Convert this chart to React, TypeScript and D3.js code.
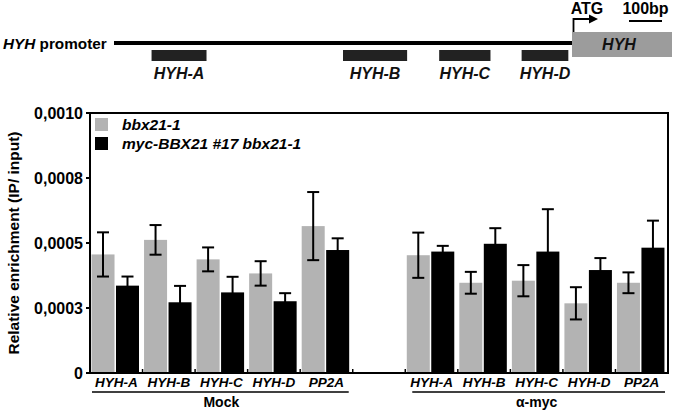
import React from "react";
import * as d3 from "d3";

// ---- data ----
const categories = ["HYH-A", "HYH-B", "HYH-C", "HYH-D", "PP2A"];
const groups = ["Mock", "α-myc"];
const seriesNames = ["bbx21-1", "myc-BBX21 #17 bbx21-1"];
const mockGray = [0.000456, 0.000512, 0.000437, 0.000383, 0.000565];
const mockGrayErr = [0.000085, 0.000057, 0.000046, 0.000047, 0.000131];
const mockBlack = [0.000336, 0.000272, 0.00031, 0.000276, 0.000473];
const mockBlackErr = [0.000035, 0.000063, 0.00006, 0.000031, 0.000045];
const mycGray = [0.000453, 0.000347, 0.000355, 0.000268, 0.000347];
const mycGrayErr = [0.000087, 0.000042, 0.00006, 0.000062, 0.00004];
const mycBlack = [0.000467, 0.000497, 0.000467, 0.000396, 0.000482];
const mycBlackErr = [0.000022, 0.00006, 0.000163, 0.000046, 0.000104];
const yTickValues = [0, 0.00025, 0.0005, 0.00075, 0.001];
const yTickLabels = ["0", "0,0003", "0,0005", "0,0008", "0,0010"];
// promoter diagram (positions on a 0..100 layout scale)
const fragments = ["HYH-A", "HYH-B", "HYH-C", "HYH-D"];
const fragStart = [8.2, 50.0, 71.0, 89.0];
const fragEnd = [20.2, 64.0, 82.2, 99.2];

const FONT = "'Liberation Sans', Arial, Helvetica, sans-serif";
const W = 677, H = 412;
const M = { left: 90, right: 668, top: 113, bottom: 373 };

type Bar = { key: string; group: number; cat: number; series: number; value: number; err: number };

export default function App() {
  const slots: string[] = [
    ...categories.map((c) => "m-" + c),
    "gap",
    ...categories.map((c) => "y-" + c),
  ];
  const x0 = d3.scaleBand<string>().domain(slots).range([M.left, M.right]).padding(0);
  const x1 = d3.scaleBand<number>().domain([0, 1]).range([1.5, 49]).paddingInner(0.06);
  const y = d3.scaleLinear().domain([0, 0.001]).range([M.bottom, M.top]);

  const bars: Bar[] = [];
  const sets = [
    [mockGray, mockGrayErr, mockBlack, mockBlackErr],
    [mycGray, mycGrayErr, mycBlack, mycBlackErr],
  ];
  sets.forEach((s, g) => {
    categories.forEach((c, i) => {
      bars.push({ key: `${g}-${c}-0`, group: g, cat: i, series: 0, value: s[0][i], err: s[1][i] });
      bars.push({ key: `${g}-${c}-1`, group: g, cat: i, series: 1, value: s[2][i], err: s[3][i] });
    });
  });
  const slotKey = (g: number, i: number) => (g === 0 ? "m-" : "y-") + categories[i];
  const colors = ["#b3b3b3", "#000000"];
  const boundaries = slots.slice(1).map((s) => x0(s) as number);

  // diagram scale
  const dx = d3.scaleLinear().domain([0, 100]).range([114, 572]);
  const diagLineY = 43;

  const groupRanges = [
    [x0("m-HYH-A") as number, (x0("m-PP2A") as number) + x0.bandwidth()],
    [x0("y-HYH-A") as number, (x0("y-PP2A") as number) + x0.bandwidth()],
  ];

  return (
    <svg width={W} height={H} style={{ position: "absolute", left: 0, top: 0, background: "#fff" }} fontFamily={FONT}>
      {/* ---- promoter diagram ---- */}
      <text x={3} y={49} fontSize={15.3} fontWeight="bold">
        <tspan fontStyle="italic">HYH</tspan> promoter
      </text>
      <line x1={dx(0)} x2={dx(100)} y1={diagLineY} y2={diagLineY} stroke="#000" strokeWidth={4} />
      {fragments.map((f, i) => (
        <g key={f}>
          <rect x={dx(fragStart[i])} y={50} width={dx(fragEnd[i]) - dx(fragStart[i])} height={11} fill="#222" />
          <text x={(dx(fragStart[i]) + dx(fragEnd[i])) / 2} y={79} fontSize={16} fontWeight="bold" fontStyle="italic" textAnchor="middle" fill="#111">
            {f}
          </text>
        </g>
      ))}
      <rect x={572} y={32} width={100} height={25} fill="#9c9c9c" />
      <text x={619} y={50} fontSize={16} fontWeight="bold" fontStyle="italic" textAnchor="middle" fill="#111">HYH</text>
      <path d="M573.5,32 V19 H590" fill="none" stroke="#000" strokeWidth={1.8} />
      <path d="M589,14.5 L598,19 L589,23.5 Z" fill="#000" />
      <text x={587} y={14} fontSize={16} fontWeight="bold" textAnchor="middle">ATG</text>
      <text x={645.5} y={14} fontSize={16} fontWeight="bold" textAnchor="middle">100bp</text>
      <line x1={629} x2={662} y1={21} y2={21} stroke="#000" strokeWidth={2} />

      {/* ---- bars ---- */}
      {bars.map((b) => {
        const bx = (x0(slotKey(b.group, b.cat)) as number) + (x1(b.series) as number);
        const bw = x1.bandwidth();
        return <rect key={b.key} x={bx} y={y(b.value)} width={bw} height={y(0) - y(b.value)} fill={colors[b.series]} />;
      })}
      {bars.map((b) => {
        const cx = (x0(slotKey(b.group, b.cat)) as number) + (x1(b.series) as number) + x1.bandwidth() / 2;
        const top = y(b.value + b.err);
        const bot = y(b.value - b.err);
        return (
          <g key={"e" + b.key} stroke="#000" strokeWidth={2}>
            <line x1={cx} x2={cx} y1={top} y2={bot} />
            <line x1={cx - 6} x2={cx + 6} y1={top} y2={top} />
            <line x1={cx - 6} x2={cx + 6} y1={bot} y2={bot} />
          </g>
        );
      })}

      {/* ---- frame & axes ---- */}
      <rect x={M.left} y={M.top} width={M.right - M.left} height={M.bottom - M.top} fill="none" stroke="#000" strokeWidth={2} />
      {yTickValues.map((v, i) => (
        <g key={"yt" + i}>
          <line x1={M.left - 4} x2={M.left} y1={y(v)} y2={y(v)} stroke="#000" strokeWidth={2} />
          <text x={83} y={y(v)} dy="0.35em" fontSize={16} fontWeight="bold" textAnchor="end">
            {yTickLabels[i]}
          </text>
        </g>
      ))}
      {boundaries.map((bx, i) => (
        <line key={"xt" + i} x1={bx} x2={bx} y1={M.bottom - 4} y2={M.bottom} stroke="#000" strokeWidth={1.5} />
      ))}
      <text transform={`translate(14,${(M.top + M.bottom) / 2}) rotate(-90)`} fontSize={15.5} fontWeight="bold" textAnchor="middle" dy="0.35em">
        Relative enrichment (IP/ input)
      </text>

      {/* ---- legend ---- */}
      {seriesNames.map((s, i) => (
        <g key={s}>
          <rect x={95} y={118 + i * 19} width={13} height={13} fill={colors[i]} />
          <text x={122} y={130 + i * 19} fontSize={15.5} fontWeight="bold" fontStyle="italic">{s}</text>
        </g>
      ))}

      {/* ---- category labels ---- */}
      {[0, 1].map((g) =>
        categories.map((c, i) => (
          <text
            key={`cl-${g}-${c}`}
            x={(x0(slotKey(g, i)) as number) + x0.bandwidth() / 2}
            y={387}
            fontSize={13.5}
            fontWeight="bold"
            fontStyle="italic"
            textAnchor="middle"
          >
            {c}
          </text>
        ))
      )}
      {groups.map((gname, g) => (
        <g key={gname}>
          <line x1={groupRanges[g][0] + (g === 0 ? 2 : 7)} x2={groupRanges[g][1] - (g === 0 ? 4 : 3)} y1={392} y2={392} stroke="#000" strokeWidth={1.5} />
          <text x={(groupRanges[g][0] + groupRanges[g][1]) / 2} y={407} fontSize={14} fontWeight="bold" textAnchor="middle">
            {gname}
          </text>
        </g>
      ))}
    </svg>
  );
}
